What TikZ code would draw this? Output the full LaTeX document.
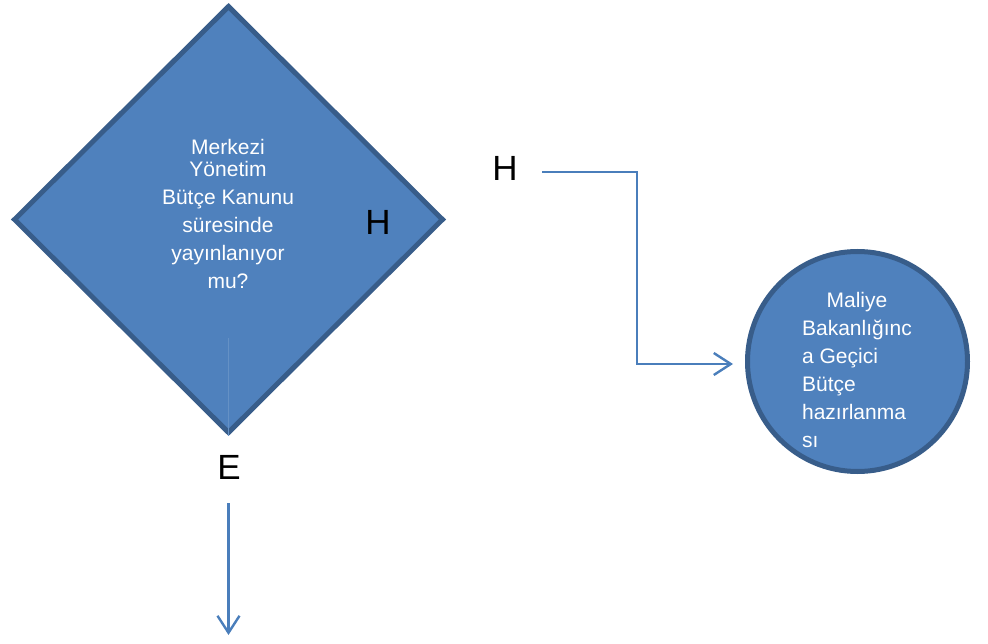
\documentclass[tikz,border=0pt]{standalone}
\usepackage{fontspec}
\setmainfont{Liberation Sans}
\usetikzlibrary{shapes.geometric,arrows.meta}
\definecolor{shapefill}{HTML}{4F81BD}
\definecolor{shapeedge}{HTML}{385D8A}
\definecolor{flowline}{HTML}{4A7EBB}
\begin{document}
\begin{tikzpicture}[x=1pt,y=-1pt,
  decision/.style={diamond,aspect=1,draw=shapeedge,fill=shapefill,line width=5pt,
    inner sep=0pt,minimum width=430pt,minimum height=428pt},
  process/.style={circle,draw=shapeedge,fill=shapefill,line width=5pt,
    inner sep=0pt,minimum size=220pt},
  shapetext/.style={text=white,font=\fontsize{21}{28}\selectfont,inner sep=0pt},
  bigletter/.style={text=black,font=\fontsize{35}{40}\selectfont,inner sep=0pt},
  flow/.style={draw=flowline,line width=2.4pt},
  tip/.style={-{Straight Barb[length=17pt,width=22pt,line width=2.4pt]}}
]
\useasboundingbox (0,0) rectangle (988,644);

% decision diamond and its question
\node[decision] (dec) at (228.5,219.5) {};
\node[shapetext,align=center] (q) at (228,214)
  {Merkezi\\[-6pt]Yönetim\\Bütçe Kanunu\\süresinde\\yayınlanıyor\\mu?};
\draw[draw=flowline!85!white,line width=1pt] (228.5,338) -- (dec.south);
\node[bigletter] (hin) at (378,222) {H};

% "No" branch to the circle
\node[bigletter] (hout) at (505,168) {H};
\coordinate (hstart) at (542,172);
\node[process] (proc) at (857.5,361.5) {};
\node[shapetext] (ptext) at (857,372) {%
  \begin{tabular}{@{}l@{}}
  \multicolumn{1}{@{}c@{}}{Maliye}\\
  Bakanlığınc\\
  a Geçici\\
  Bütçe\\
  hazırlanma\\
  sı
  \end{tabular}};
\draw[flow,tip] (hstart) -- (637,172) |- ([xshift=-12pt]proc.west |- 0,364);

% "Yes" branch downward
\node[bigletter] (e) at (229,467) {E};
\coordinate (eend) at (228.5,635);
\draw[flow,tip] (228.5,503) -- (eend);
\end{tikzpicture}
\end{document}
